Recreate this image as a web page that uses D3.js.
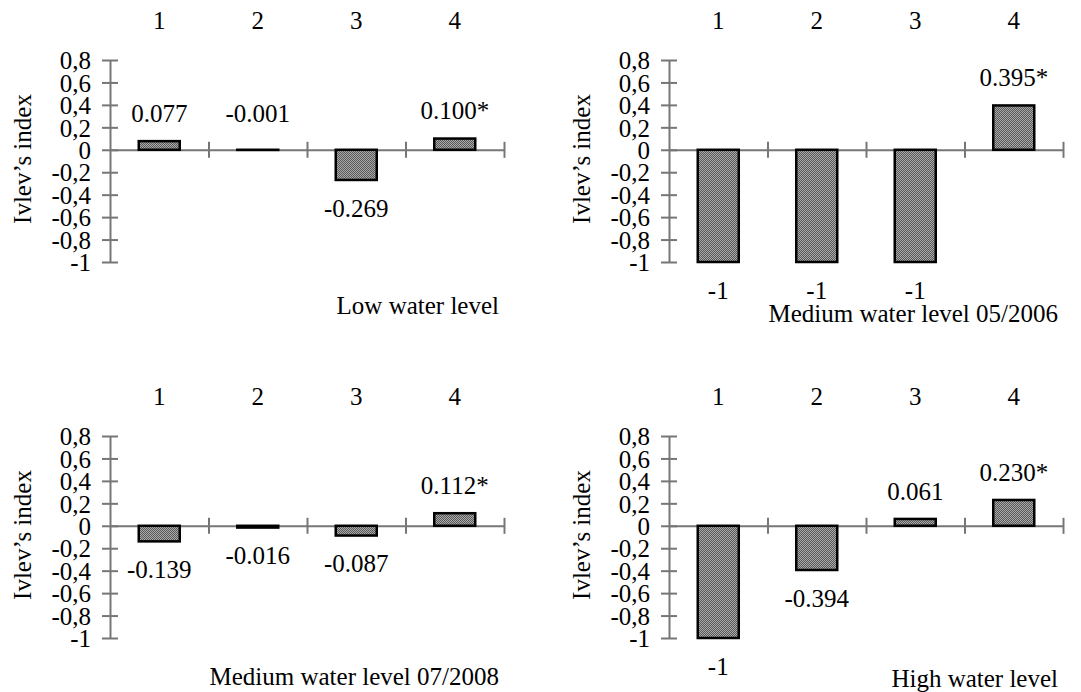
<!DOCTYPE html>
<html>
<head>
<meta charset="utf-8">
<script src="https://cdn.jsdelivr.net/npm/d3@7"></script>
<style>
  body { margin: 0; background: #fff; }
  svg { display: block; font-family: "Liberation Serif", "Times New Roman", serif; }
  .axis path, .axis line { stroke: #767676; stroke-width: 2; }
  .axis text { font-family: "Liberation Serif", serif; font-size: 25px; fill: #000; }
  .lbl { font-size: 25px; fill: #000; }
</style>
</head>
<body>
<svg id="chart"></svg>
<script>
// data
var categories = ["1", "2", "3", "4"];
var yTicks = [0.8, 0.6, 0.4, 0.2, 0, -0.2, -0.4, -0.6, -0.8, -1];

var lowWater = [0.077, -0.001, -0.269, 0.100];
var lowWaterLabels = ["0.077", "-0.001", "-0.269", "0.100*"];

var medium2006 = [-1, -1, -1, 0.395];
var medium2006Labels = ["-1", "-1", "-1", "0.395*"];

var medium2008 = [-0.139, -0.016, -0.087, 0.112];
var medium2008Labels = ["-0.139", "-0.016", "-0.087", "0.112*"];

var highWater = [-1, -0.394, 0.061, 0.230];
var highWaterLabels = ["-1", "-0.394", "0.061", "0.230*"];

var titles = ["Low water level", "Medium water level 05/2006",
              "Medium water level 07/2008", "High water level"];

// layout of the four panels (x of y axis, y of the 0,8 tick)
var panels = [
    {left: 110, top: 60,  values: lowWater,   labels: lowWaterLabels,   title: titles[0], titleDy: 245},
    {left: 669, top: 60,  values: medium2006, labels: medium2006Labels, title: titles[1], titleDy: 253},
    {left: 110, top: 436, values: medium2008, labels: medium2008Labels, title: titles[2], titleDy: 240},
    {left: 669, top: 436, values: highWater,  labels: highWaterLabels,  title: titles[3], titleDy: 242}
];

var width = 394, height = 202, barWidth = 41, labelGap = 28;

var svg = d3.select("#chart")
    .attr("width", 1081)
    .attr("height", 692);

// dithered grey fill of the bars
var pat = svg.append("defs").append("pattern")
    .attr("id", "dither")
    .attr("width", 2).attr("height", 2)
    .attr("patternUnits", "userSpaceOnUse");
pat.append("rect").attr("width", 2).attr("height", 2).attr("fill", "#a8a8a8");
pat.append("rect").attr("width", 1).attr("height", 1).attr("fill", "#5a5a5a");
pat.append("rect").attr("x", 1).attr("y", 1).attr("width", 1).attr("height", 1).attr("fill", "#5a5a5a");

var fmt = function(d) { return String(+d.toFixed(1)).replace(".", ","); };

panels.forEach(function(p) {
    var g = svg.append("g")
        .attr("transform", "translate(" + p.left + "," + p.top + ")");

    var y = d3.scaleLinear().domain([-1, 0.8]).range([height, 0]);
    var x = d3.scaleBand().domain(categories).range([0, width]);
    var xb = d3.scaleLinear().domain([0, categories.length]).range([0, width]);

    // y axis, ticks crossing the line
    var yAxis = g.append("g")
        .attr("class", "axis")
        .call(d3.axisLeft(y).tickValues(yTicks).tickFormat(fmt)
            .tickSize(8).tickSizeOuter(0).tickPadding(11));
    yAxis.selectAll(".tick line").attr("x1", 8).attr("x2", -8);
    yAxis.selectAll(".tick text").attr("dy", "0.35em");

    // zero line with separators between categories
    var xAxis = g.append("g")
        .attr("class", "axis")
        .attr("transform", "translate(0," + y(0) + ")")
        .call(d3.axisBottom(xb).tickValues([1, 2, 3, 4]).tickFormat("")
            .tickSize(8).tickSizeOuter(0));
    xAxis.selectAll(".tick line").attr("y1", -8).attr("y2", 8);

    // category labels on top
    var top = g.append("g")
        .attr("class", "axis")
        .attr("transform", "translate(0,-40)")
        .call(d3.axisTop(x).tickSize(0).tickPadding(0));
    top.select(".domain").remove();
    top.selectAll(".tick text").attr("dy", "0.35em");

    // bars
    g.selectAll(".bar")
        .data(p.values)
        .enter().append("rect")
        .attr("class", "bar")
        .attr("x", function(d, i) { return x(categories[i]) + (x.bandwidth() - barWidth) / 2; })
        .attr("y", function(d) { return y(Math.max(d, 0)); })
        .attr("width", barWidth)
        .attr("height", function(d) { return Math.abs(y(d) - y(0)); })
        .attr("fill", "url(#dither)")
        .attr("stroke", "#000")
        .attr("stroke-width", 2.5);

    // value labels
    g.selectAll(".val")
        .data(p.values)
        .enter().append("text")
        .attr("class", "val lbl")
        .attr("x", function(d, i) { return x(categories[i]) + x.bandwidth() / 2; })
        .attr("y", function(d) {
            return d > -0.005 ? y(Math.max(d, 0)) - labelGap - (d < 0 ? 9 : 0) : y(d) + labelGap;
        })
        .attr("dy", "0.35em")
        .attr("text-anchor", "middle")
        .text(function(d, i) { return p.labels[i]; });

    // y axis title
    g.append("text")
        .attr("class", "lbl")
        .attr("transform", "translate(-88," + (height / 2 - 2) + ") rotate(-90)")
        .attr("dy", "0.35em")
        .attr("text-anchor", "middle")
        .text("Ivlev\u2019s index");

    // panel title
    g.append("text")
        .attr("class", "lbl")
        .attr("x", width - 5)
        .attr("y", p.titleDy)
        .attr("dy", "0.35em")
        .attr("text-anchor", "end")
        .text(p.title);
});
</script>
</body>
</html>
